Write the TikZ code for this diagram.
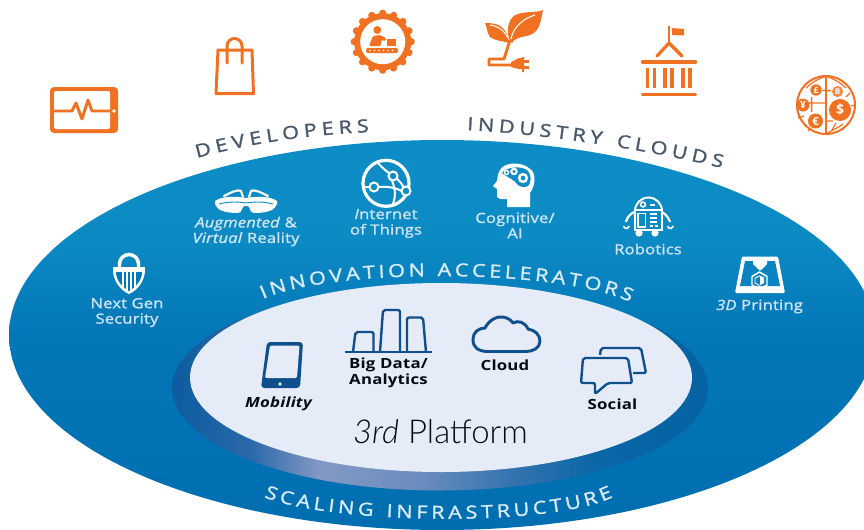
\documentclass[tikz,border=0pt]{standalone}
\usepackage{fontspec}
\usetikzlibrary{decorations.text}
\setmainfont{Open Sans}
\newfontfamily\lab[LetterSpace=1.5,FakeStretch=1.18,FakeBold=1.5]{Open Sans}
\newfontfamily\dlab[LetterSpace=1.5,FakeStretch=1.2]{Open Sans}
\newfontfamily\capl[FakeStretch=1.2,FakeBold=1.5]{Open Sans}
\IfFontExistsTF{Lato Light}{\newfontfamily\thinf{Lato Light}}{\IfFontExistsTF{Open Sans Light}{\newfontfamily\thinf{Open Sans Light}}{\newfontfamily\thinf{Open Sans}}}
\definecolor{orng}{HTML}{F07122}
\definecolor{slate}{HTML}{47586A}
\definecolor{lite}{HTML}{CDE4F3}
\definecolor{capw}{HTML}{D8EBF6}
\definecolor{navy}{HTML}{0F4F8C}
\definecolor{pale}{HTML}{E6ECF7}
\definecolor{topb}{HTML}{0D8DC6}
\definecolor{botb}{HTML}{006EB1}
\definecolor{rA}{HTML}{0C5C9F}
\definecolor{rB}{HTML}{2A69A9}
\definecolor{rC}{HTML}{8498C4}
\definecolor{rD}{HTML}{6A8DBD}
\definecolor{rE}{HTML}{2F72AD}
\definecolor{rF}{HTML}{0A66A6}
\definecolor{rG}{HTML}{0563A3}
\pgfdeclarehorizontalshading{ringshade}{100bp}{color(0bp)=(rA); color(25bp)=(rA); color(32.3bp)=(rB); color(38.8bp)=(rC); color(48.1bp)=(rD); color(57.5bp)=(rE); color(64.9bp)=(rF); color(75bp)=(rG); color(100bp)=(rG)}
\pgfdeclareverticalshading{discshade}{100bp}{color(0bp)=(botb); color(25bp)=(botb); color(50bp)=(botb!72!topb); color(62bp)=(topb!90!botb); color(75bp)=(topb); color(100bp)=(topb)}
\tikzset{
 ic/.style={draw=orng,line width=2.25pt,line cap=butt,line join=round},
 wl/.style={draw=white,line width=1.9pt},
 nv/.style={draw=navy,line width=1.8pt,rounded corners=1.5pt,line join=round},
 litelab/.style={text=lite,font=\lab\fontsize{10.5}{11.6}\selectfont,align=center,inner sep=0pt},
 darklab/.style={text=black!85!navy,font=\bfseries\dlab\fontsize{10.5}{11.6}\selectfont,align=center,inner sep=0pt},
}
\begin{document}
\begin{tikzpicture}[x=0.75pt,y=-0.75pt]
\useasboundingbox (0,0) rectangle (864,529);
\clip (0,0) rectangle (864,529);
% disc
\path[shading=discshade] (442,335) ellipse [x radius=433,y radius=195];
\path[shading=ringshade] (440,388) ellipse [x radius=268,y radius=102.5];
\fill[pale] (441,377.5) ellipse [x radius=251,y radius=94.5];

% curved captions
\path[decorate,decoration={text along path,text align={fit to path},text={|\color{slate}\capl\fontsize{13.5}{13.5}\selectfont|DEVELOPERS}}]
  (197,158) .. controls (255,142) and (310,135) .. (369,132);
\path[decorate,decoration={text along path,text align={fit to path},text={|\color{slate}\capl\fontsize{13.5}{13.5}\selectfont|INDUSTRY CLOUDS}}]
  (467,130) .. controls (540,134) and (640,148) .. (722,168);
\path[decorate,decoration={text along path,text align={fit to path},text={|\color{capw}\capl\fontsize{13.5}{13.5}\selectfont|INNOVATION ACCELERATORS}}]
  (263,299) .. controls (330,268) and (560,268) .. (630,302);
\path[decorate,decoration={text along path,text align={fit to path},text={|\color{capw}\capl\fontsize{13.5}{13.5}\selectfont|SCALING INFRASTRUCTURE}}]
  (264,497) .. controls (330,524) and (550,528) .. (613,497);

% orange icons: tablet
\fill[orng,rounded corners=3pt] (50,87) rectangle (118,133);
\fill[white,rounded corners=1.5pt] (54,91) rectangle (110,129);
\draw[orng,line width=2.2pt,line join=round] (54,111) -- (72,111) -- (76,103) -- (82,119) -- (88,100) -- (92,111) -- (110,111);
\fill[white] (114,111) circle [radius=1.8];
% bag
\draw[ic] (218,50) -- (252,50) -- (253.5,93.5) -- (216,93.5) -- cycle;
\draw[ic,line cap=round] (227,63) -- (227,46) arc [start angle=180,end angle=360,radius=7.5] -- (242,63);
% gear
\fill[orng] (382.7,41.7) circle [radius=28.5];
\foreach \a in {0,22.5,...,337.5} \fill[orng] ({382.7+28.5*cos(\a)},{41.7+28.5*sin(\a)}) circle [radius=3.6];
\fill[white] (382.7,41.7) circle [radius=22.5];
\fill[orng] (377.3,30) circle [radius=3.9];
\fill[orng,rounded corners=1pt] (369,46) -- (373,36) -- (380,35) -- (386,38) -- (386,41) -- (381,40) -- (381,46) -- cycle;
\fill[orng] (387,39) rectangle (396,46);
\fill[orng,rounded corners=1.5pt] (366,48) rectangle (398,53);
\foreach \x in {370,374.5,...,395} \fill[white] (\x,50.5) circle [radius=0.9];
% plant
\fill[orng] (510,41) .. controls (505,30) and (509,16) .. (518,14) .. controls (527,11) and (536,13) .. (543,10) .. controls (541,20) and (540,30) .. (532,34) .. controls (524,38) and (516,36) .. (512,43) -- cycle;
\fill[orng] (485,23) .. controls (495,23) and (507,24) .. (509,43) .. controls (503,41) and (495,41) .. (490,37) .. controls (487,33) and (487,27) .. (485,23) -- cycle;
\draw[white,line width=0.8pt] (511,39) .. controls (513,28) and (522,19) .. (535,15);
\draw[white,line width=0.8pt] (508,38) .. controls (505,31) and (498,26) .. (490,25);
\draw[orng,line width=2.2pt,line join=round] (510,40) -- (504,59) -- (489,59) -- (489,65) -- (513,65);
\fill[orng] (511,62) -- (519,58) -- (522,58) -- (522,57) -- (524,57) -- (524,72) -- (522,72) -- (522,69) -- (519,69) -- (511,67) -- cycle;
\fill[orng] (524,60) rectangle (529,62.5);
\fill[orng] (524,66) rectangle (529,68.5);
% capitol
\draw[orng,line width=2pt] (669,26) -- (669,43);
\fill[orng] (672,28) -- (684,29) -- (684,35.5) -- (672,35) -- cycle;
\draw[orng,line width=2.4pt,line cap=round,line join=round] (657,56) -- (669,43) -- (682,56);
\draw[orng,line width=2.6pt,line cap=round] (642.5,62) -- (695.5,62);
\draw[orng,line width=2.6pt,line cap=round] (642.5,94.5) -- (695.5,94.5);
\foreach \x in {647.5,654.5,665,672,683,690} \fill[orng] ({\x-1.6},68) rectangle ({\x+1.6},88);
% globe
\draw[orng,line width=1.5pt] (826,105) circle [radius=29];
\draw[orng,line width=1.1pt] (826,76) -- (826,134);
\draw[orng,line width=0.9pt] (826,76) .. controls (816,80) and (810,84) .. (806,88);
\draw[orng,line width=0.9pt] (826,76) .. controls (836,80) and (842,84) .. (846,88);
\draw[orng,line width=0.9pt] (826,134) .. controls (832,130) and (838,128) .. (843,124);
\draw[orng,line width=0.9pt] (808,131) -- (812,126) (798,118) -- (804,116) (832,130) -- (836,123) (850,93) -- (846,97) (855,105) -- (851,106);
\draw[orng,line width=1.1pt] (809,103) -- (826,103) (811.7,97) -- (811.7,112) (816,90) -- (837,91) (826,121) -- (833,121);
\fill[orng] (840,110) circle [radius=11];
\fill[white] (815.5,121) circle [radius=8.4];
\fill[orng] (815.5,121) circle [radius=7.5];
\fill[orng] (803,105) circle [radius=6.5];
\fill[white] (816,90) circle [radius=6.5];
\fill[orng] (816,90) circle [radius=5.7];
\fill[white] (837.5,91.5) circle [radius=6.5];
\fill[orng!82!white] (837.5,91.5) circle [radius=5.6];
\node[text=white,font=\bfseries\fontsize{10.5}{10.5}\selectfont,inner sep=0pt] (dollar) at (840,110) {\$};
\node[text=white,font=\bfseries\fontsize{8.5}{8.5}\selectfont,inner sep=0pt] (euro) at (815.5,121) {€};
\node[text=white,font=\bfseries\fontsize{7.5}{7.5}\selectfont,inner sep=0pt] (yen) at (803,105) {¥};
\node[text=white,font=\bfseries\fontsize{6.5}{6.5}\selectfont,inner sep=0pt] (pound) at (816,90) {£};
\node[text=white,font=\bfseries\fontsize{6}{6}\selectfont,inner sep=0pt] (btc) at (837.5,91.5) {B};

% white icons: lock
\draw[wl,line width=2.6pt] (119.5,268) -- (119.5,264) arc [start angle=180,end angle=360,radius=9.5] -- (138.5,268);
\fill[white] (113,267) -- (145,267) .. controls (146,280) and (138,290) .. (129,294) .. controls (120,290) and (112,280) .. (113,267) -- cycle;
\fill[topb!35!botb] (116,272) -- (142,272) .. controls (142,280) and (136,287) .. (129,291) .. controls (122,287) and (116,280) .. (116,272) -- cycle;
\foreach \x in {122,126,130,134} \fill[white] (\x,272) rectangle (\x+1.6,290);
% glasses
\fill[white] (215,201) .. controls (222,196) and (235,196) .. (246,198) .. controls (257,196) and (270,196) .. (277,201) -- (277,204) .. controls (275,210) and (268,213) .. (254,213) .. controls (250,213) and (250,207) .. (248,206) -- (244,206) .. controls (242,207) and (242,213) .. (238,213) .. controls (224,213) and (217,210) .. (215,204) -- cycle;
\draw[topb,line width=0.7pt] (219,204) .. controls (230,201) and (240,202) .. (246,203) .. controls (252,202) and (262,201) .. (273,204);
\draw[white,line width=1.6pt,line cap=round] (224,196) .. controls (232,192) and (238,189) .. (241,191) -- (243,197);
\draw[white,line width=1.6pt,line cap=round] (268,196) .. controls (260,192) and (254,189) .. (251,191) -- (249,197);
% iot globe
\draw[wl,line width=2.4pt] (386,183.3) circle [radius=23];
\draw[white,line width=1.5pt] (378,163) .. controls (384,170) and (388,172) .. (393,176) .. controls (400,180) and (403,186) .. (406,191);
\draw[white,line width=1.5pt] (364,187) -- (370,187) (378,187) .. controls (388,186) and (396,188) .. (402,191);
\draw[white,line width=1.5pt] (393,204) .. controls (398,190) and (392,182) .. (389,173);
\draw[white,line width=1.5pt,fill=topb] (374,187) circle [radius=4.5];
\draw[white,line width=1.5pt,fill=topb] (393,176) circle [radius=4.5];
\draw[white,line width=1.5pt,fill=topb] (406,191) circle [radius=4.5];
% head
\fill[white] (530,207) -- (530,193) .. controls (536,185) and (536,172) .. (530,169) .. controls (522,161) and (504,162) .. (500,170) .. controls (497,175) and (498,178) .. (497,181) -- (493,186) -- (497,189) -- (497,197) .. controls (500,200) and (504,199) .. (507,199) -- (507,207) -- cycle;
\fill[topb] (502,173) .. controls (506,167) and (522,165) .. (528,171) .. controls (532,176) and (531,183) .. (528,186) .. controls (524,188) and (521,187) .. (518,185) .. controls (514,179) and (508,178) .. (502,173) -- cycle;
\foreach \x/\y/\r in {523/178/5.2,514/171.5/3.8,506.5/172.5/2.8} {\fill[white] (\x,\y) circle [radius=\r]; \fill[topb] (\x,\y) circle [radius=\r*0.45];}
% robot
\draw[wl,line width=1.5pt] (635,211) arc [start angle=180,end angle=360,radius=13.5] ;
\draw[wl,line width=1.5pt] (634.5,210) rectangle (661.5,229.5);
\draw[wl,line width=1.4pt] (638,213.5) rectangle (645.5,227);
\draw[wl,line width=1.2pt] (643,204.5) circle [radius=2.4];
\draw[white,line width=1.4pt] (650,205) -- (655,205);
\foreach \y in {214,218,222} \draw[white,line width=1.2pt] (650,\y) -- (657,\y);
\draw[white,line width=1.2pt] (650,226) -- (653,226) (655,226) -- (658,226);
\fill[white] (639,233) circle [radius=3.6];
\fill[white] (655,233) circle [radius=3.6];
\draw[white,line width=1.6pt] (634,212) .. controls (628,215) and (627,219) .. (626,222);
\draw[white,line width=1.6pt] (662,212) .. controls (667,215) and (669,219) .. (670,222);
\draw[white,line width=1.2pt] (623.5,226) arc [start angle=170,end angle=10,radius=3] (667.5,226) arc [start angle=170,end angle=10,radius=3];
% 3d printer
\fill[white,rounded corners=1pt] (742,256.5) -- (778,256.5) -- (785,293) -- (735,293) -- cycle;
\fill[topb!70!botb] (745,261) -- (775,261) -- (780,286) -- (740,286) -- cycle;
\fill[white] (753,261) -- (767,261) -- (767,264) -- (761,270) -- (759,270) -- (753,264) -- cycle;
\draw[white,line width=1.1pt] (759.5,272) -- (767,276.5) -- (767,285) -- (759.5,289) -- (752,285) -- (752,276.5) -- cycle;
\fill[white] (760,276.5) -- (764,278.5) -- (764,283) -- (760,285) -- cycle;
\draw[white,line width=0.7pt] (755,278) -- (759.5,276) -- (764,278) (755,278) -- (755,283) -- (759.5,285.5);

% navy icons: mobile
\fill[navy,rounded corners=2.5pt] (267,342) -- (303,342) -- (300,388) -- (261,388) -- cycle;
\fill[pale,rounded corners=1pt] (270,345.5) -- (299.5,345.5) -- (297,378) -- (265,378) -- cycle;
\fill[pale] (280,384) circle [radius=1.9];
% bars
\draw[navy,line width=1.8pt] (345,352) -- (432,352);
\draw[nv] (353,352) -- (355.5,332) -- (373.5,332) -- (373.5,352);
\draw[nv] (380,352) -- (383,310) -- (400,310) -- (400,352);
\draw[nv] (407,352) -- (407,317.5) -- (423,317.5) -- (426,352);
% cloud
\draw[navy,line width=2.2pt,fill=none,line join=round] (488,351.5) .. controls (478,351.5) and (472.5,347) .. (473,339) .. controls (473,332) and (479,328) .. (485,328) .. controls (489,320) and (497,316) .. (503,317) .. controls (508,318) and (511,320) .. (513,323) .. controls (518,320) and (525,322) .. (528,329) .. controls (535,330) and (540,335) .. (540,341) .. controls (540,348) and (533,351.5) .. (526,351.5) -- cycle;
% social
\draw[nv] (600,355) -- (601,348) -- (641,348) -- (646,373) -- (633,373);
\draw[nv] (583,358) -- (628,358) -- (632,383) -- (608,383) -- (595,394) -- (595,383) -- (581,383) -- cycle;

% labels
\node[litelab] (sec) at (127,312.5) {Next Gen\\Security};
\node[litelab] (arvr) at (246,231.5) {\textit{Augmented} \&\\\textit{Virtual} Reality};
\node[litelab] (iot) at (386,223.5) {\textit{I}nternet\\of Things};
\node[litelab] (ai) at (515,225.5) {Cognitive/\\AI};
\node[litelab] (robot) at (648,249) {Robotics};
\node[litelab] (print) at (759.5,306.5) {\textit{3D} Printing};
\node[darklab] (mob) at (279,404) {\textit{Mobility}};
\node[darklab] (big) at (388.5,373) {Big Data/\\Analytics};
\node[darklab] (cld) at (505,365.5) {Cloud};
\node[darklab] (soc) at (612.5,404) {Social};
\node[text=black!85!navy,font=\thinf\fontsize{24.7}{24.7}\selectfont,inner sep=0pt] (plat) at (440.5,432) {\textit{3rd} Platform};
\end{tikzpicture}
\end{document}
